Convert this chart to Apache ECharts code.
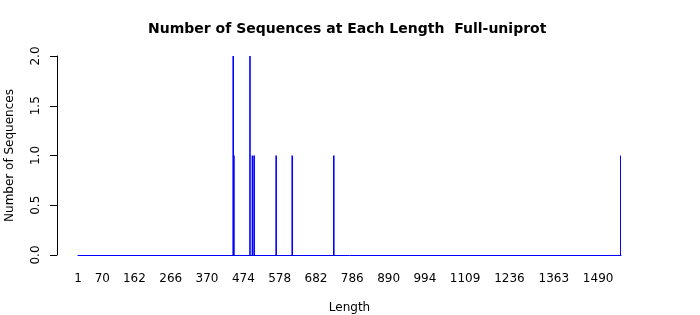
<!DOCTYPE html>
<html>
<head>
<meta charset="utf-8">
<script src="https://cdn.jsdelivr.net/npm/echarts@6/dist/echarts.min.js"></script>
<style>html,body{margin:0;padding:0;background:#fff}#c{width:700px;height:315px}</style>
</head>
<body>
<div id="c"></div>
<script>
var maxLength = 1555;
var seqLengths = [445, 447, 493, 500, 505, 568, 614, 733, 1555];
var seqCounts  = [2, 1, 2, 1, 1, 1, 1, 1, 1];
var tickLabels = [1, 70, 162, 266, 370, 474, 578, 682, 786, 890, 994, 1109, 1236, 1363, 1490];
var yTicks = [0, 0.5, 1, 1.5, 2];

var categories = [];
var values = [];
for (var i = 1; i <= maxLength; i++) { categories.push(String(i)); values.push(0); }
seqLengths.forEach(function (L, k) { values[L - 1] = seqCounts[k]; });

var font = 'DejaVu Sans';
var chart = echarts.init(document.getElementById('c'), null, {renderer: 'canvas'});
chart.setOption({
  animation: false,
  backgroundColor: '#fff',
  title: {
    text: 'Number of Sequences at Each Length  Full-uniprot',
    left: 148, top: 22, padding: 0,
    textStyle: {fontFamily: font, fontSize: 14, fontWeight: 'bold', color: '#000'}
  },
  grid: {left: 78, right: 79, top: 56, bottom: 60, containLabel: false, outerBoundsMode: 'none'},
  xAxis: {
    type: 'category',
    data: categories,
    boundaryGap: true,
    name: 'Length', nameLocation: 'middle', nameGap: 47,
    nameTextStyle: {fontFamily: font, fontSize: 12, color: '#000'},
    axisLine: {show: true, lineStyle: {color: '#0000ff', width: 1}},
    axisTick: {show: false},
    axisLabel: {
      interval: function (index, value) { return tickLabels.indexOf(Number(value)) >= 0; },
      margin: 18, fontFamily: font, fontSize: 12, color: '#000'
    },
    splitLine: {show: false}
  },
  yAxis: {
    type: 'value', min: 0, max: 2, interval: 0.5,
    offset: 21,
    name: 'Number of Sequences', nameLocation: 'middle', nameGap: 41,
    nameTextStyle: {fontFamily: font, fontSize: 12, color: '#000'},
    axisLine: {show: true, lineStyle: {color: '#000', width: 1}},
    axisTick: {show: true, length: 7, lineStyle: {color: '#000'}},
    axisLabel: {
      rotate: 90, margin: 15, fontFamily: font, fontSize: 12, color: '#000',
      formatter: function (v) { return v.toFixed(1); }
    },
    splitLine: {show: false}
  },
  series: [{
    type: 'bar',
    data: values,
    barWidth: 1.6,
    itemStyle: {color: '#0000ff'},
    large: false
  }]
});
</script>
</body>
</html>
